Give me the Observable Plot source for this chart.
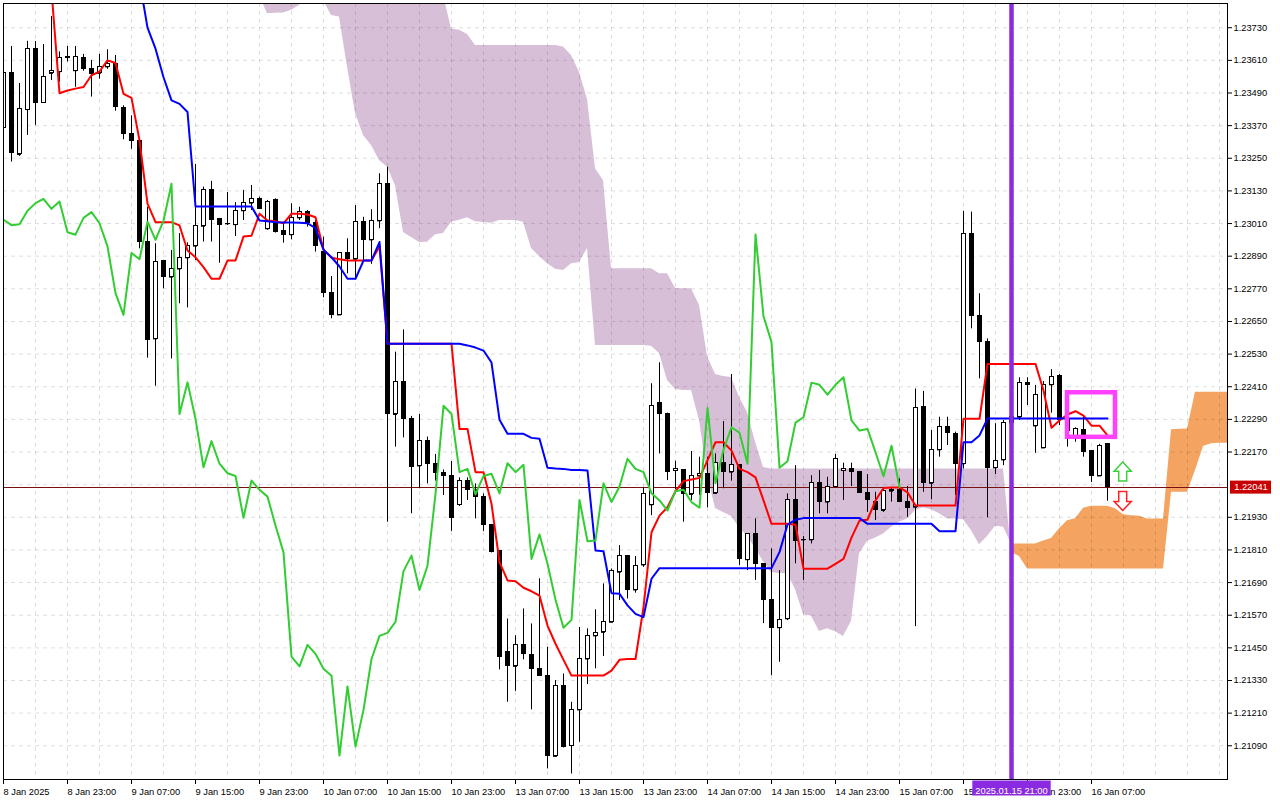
<!DOCTYPE html>
<html><head><meta charset="utf-8">
<script src="https://cdn.jsdelivr.net/npm/d3@7"></script>
<script src="https://cdn.jsdelivr.net/npm/@observablehq/plot@0.6"></script>
<style>
html,body{margin:0;padding:0;background:#fff;}
#chart svg{display:block;}
</style></head><body><div id="chart"></div>
<script>
// ---- EURUSD H1 candles, bar 0 = 8 Jan 2025 15:00 ----
const opens = [
1.23363,1.23563,1.23264,1.23429,1.23653,1.23455,1.23562,1.23568,1.23622,1.23572,
1.23620,1.23579,1.23562,1.23586,1.23597,1.23436,1.23340,1.23314,1.22943,1.22586,
1.22873,1.22813,1.22843,1.22884,1.22927,1.23000,1.23134,1.23025,1.23009,1.23006,
1.23057,1.23085,1.23101,1.22991,1.23095,1.22981,1.22969,1.23031,1.23052,1.23011,
1.22905,1.22755,1.22674,1.22902,1.22879,1.23017,1.22950,1.23020,1.23156,1.22308,
1.22426,1.22292,1.22119,1.22210,1.22127,1.22093,1.22082,1.21977,1.22065,1.22031,
1.22006,1.21903,1.21805,1.21436,1.21382,1.21461,1.21424,1.21373,1.21347,1.21051,
1.21308,1.21091,1.21222,1.21409,1.21494,1.21507,1.21544,1.21728,1.21789,1.21663,
1.21755,1.21976,1.22351,1.22308,1.22102,1.22105,1.22014,1.22082,1.22090,1.22018,
1.22129,1.22096,1.22123,1.21774,1.21867,1.21759,1.21627,1.21524,1.21557,1.21994,
1.21847,1.21847,1.22055,1.21986,1.22043,1.22102,1.22108,1.22096,1.22018,1.21986,
1.21955,1.22026,1.22031,1.21986,1.21967,1.22334,1.22055,1.22178,1.22261,1.22237,
1.22127,1.22972,1.22669,1.22574,1.22112,1.22141,1.22278,1.22298,1.22425,1.22266,
1.22185,1.22417,1.22451,1.22286,1.22227,1.22252,1.22175,1.22082,1.22200];
const highs = [
1.23573,1.23661,1.23525,1.23680,1.23679,1.23668,1.23771,1.23641,1.23661,1.23661,
1.23632,1.23610,1.23632,1.23649,1.23628,1.23443,1.23406,1.23314,1.23070,1.22936,
1.22873,1.22911,1.22973,1.22939,1.23227,1.23144,1.23165,1.23025,1.23124,1.23087,
1.23132,1.23150,1.23107,1.23095,1.23101,1.23009,1.23083,1.23070,1.23058,1.23021,
1.22960,1.22815,1.22902,1.22954,1.23076,1.23033,1.23061,1.23193,1.23217,1.22537,
1.22619,1.22301,1.22308,1.22225,1.22161,1.22104,1.22135,1.22075,1.22075,1.22053,
1.22016,1.21903,1.21805,1.21556,1.21495,1.21593,1.21538,1.21704,1.21452,1.21330,
1.21354,1.21250,1.21525,1.21520,1.21590,1.21685,1.21740,1.21826,1.21789,1.21786,
1.22040,1.22421,1.22498,1.22313,1.22136,1.22105,1.22172,1.22151,1.22151,1.22163,
1.22282,1.22455,1.22123,1.21867,1.21924,1.21759,1.21814,1.21734,1.22016,1.22120,
1.21859,1.22083,1.22102,1.22077,1.22161,1.22129,1.22129,1.22096,1.22087,1.22022,
1.22040,1.22038,1.22071,1.22043,1.22402,1.22393,1.22249,1.22298,1.22298,1.22243,
1.23055,1.23052,1.22752,1.22586,1.22274,1.22286,1.22341,1.22443,1.22443,1.22415,
1.22429,1.22473,1.22455,1.22315,1.22259,1.22304,1.22175,1.22198,1.22200];
const lows = [
1.23352,1.23236,1.23257,1.23334,1.23371,1.23455,1.23536,1.23530,1.23604,1.23511,
1.23570,1.23475,1.23541,1.23577,1.23423,1.23318,1.23283,1.22917,1.22515,1.22412,
1.22770,1.22512,1.22715,1.22700,1.22874,1.22942,1.22942,1.22864,1.23003,1.22962,
1.23021,1.23058,1.23064,1.22985,1.22975,1.22938,1.22950,1.23021,1.22997,1.22905,
1.22737,1.22660,1.22674,1.22825,1.22803,1.22874,1.22860,1.22991,1.21912,1.22188,
1.22222,1.21943,1.22035,1.22053,1.22063,1.22010,1.21878,1.21970,1.21992,1.21924,
1.21878,1.21799,1.21369,1.21250,1.21290,1.21406,1.21222,1.21347,1.21005,1.21048,
1.21082,1.20986,1.21103,1.21315,1.21373,1.21418,1.21544,1.21624,1.21630,1.21651,
1.21746,1.21936,1.22163,1.22065,1.22031,1.21912,1.21992,1.22010,1.21965,1.22016,
1.22035,1.22063,1.21753,1.21734,1.21698,1.21539,1.21348,1.21397,1.21550,1.21759,
1.21698,1.21832,1.21943,1.21943,1.22040,1.21992,1.22043,1.22018,1.21948,1.21918,
1.21948,1.21986,1.21986,1.21930,1.21528,1.22022,1.21995,1.22151,1.22194,1.22010,
1.22108,1.22623,1.22439,1.21928,1.22087,1.22120,1.22212,1.22286,1.22341,1.22165,
1.22185,1.22313,1.22267,1.22188,1.22206,1.22151,1.22058,1.22082,1.21989];
const closes = [
1.23562,1.23269,1.23430,1.23653,1.23453,1.23550,1.23569,1.23620,1.23618,1.23622,
1.23578,1.23561,1.23586,1.23597,1.23438,1.23340,1.23314,1.22942,1.22582,1.22869,
1.22813,1.22842,1.22884,1.22927,1.23002,1.23134,1.23024,1.23004,1.23007,1.23057,
1.23085,1.23101,1.23064,1.23091,1.22978,1.22969,1.23031,1.23052,1.23011,1.22926,
1.22754,1.22674,1.22902,1.22879,1.23017,1.22950,1.23020,1.23156,1.22310,1.22426,
1.22292,1.22114,1.22210,1.22127,1.22092,1.22082,1.21928,1.22065,1.22031,1.22006,
1.21900,1.21801,1.21418,1.21382,1.21461,1.21428,1.21373,1.21347,1.21054,1.21308,
1.21087,1.21222,1.21409,1.21494,1.21505,1.21546,1.21732,1.21789,1.21663,1.21752,
1.22016,1.22340,1.22310,1.22096,1.22108,1.22014,1.22082,1.22090,1.22018,1.22129,
1.22096,1.22123,1.21777,1.21867,1.21759,1.21627,1.21524,1.21553,1.21994,1.21842,
1.21845,1.22055,1.21986,1.22043,1.22145,1.22108,1.22096,1.22018,1.21992,1.21955,
1.22026,1.22031,1.21986,1.21965,1.22332,1.22055,1.22178,1.22261,1.22241,1.22127,
1.22970,1.22669,1.22574,1.22112,1.22136,1.22278,1.22298,1.22425,1.22417,1.22381,
1.22417,1.22445,1.22286,1.22249,1.22255,1.22169,1.22081,1.22193,1.22041];

// ---- Ichimoku lines ----
const tenkanStart = 6;   // red
const tenkan = [
1.23867,1.23489,1.23499,1.23506,1.23512,1.23555,1.23569,1.23610,1.23600,1.23487,
1.23472,1.23316,1.23083,1.23015,1.23015,1.23015,1.23003,1.22911,1.22886,1.22850,
1.22807,1.22807,1.22874,1.22874,1.22962,1.22965,1.23046,1.23021,1.23018,1.23011,
1.23046,1.23046,1.23043,1.23033,1.22914,1.22884,1.22879,1.22874,1.22874,1.22874,
1.22874,1.22926,
1.22568,1.22568,1.22568,1.22568,1.22568,1.22568,1.22568,1.22568,1.22568,
1.22255,1.22255,1.22096,1.22096,1.21980,1.21765,1.21698,1.21695,1.21671,1.21658,
1.21642,1.21532,1.21465,1.21406,1.21348,1.21348,1.21348,1.21348,1.21348,1.21366,
1.21406,1.21409,1.21409,1.21599,1.21875,1.21936,1.21967,1.22026,1.22063,1.22069,
1.22075,1.22139,1.22206,1.22206,1.22175,1.22108,1.22096,1.22077,1.21992,1.21906,
1.21906,1.21906,1.21903,1.21741,1.21741,1.21741,1.21741,1.21759,1.21777,1.21855,
1.21918,1.21921,1.21992,1.22038,1.22040,1.22040,1.22022,1.21973,1.21973,1.21973,
1.21973,1.21973,1.21973,1.22292,1.22292,1.22292,1.22494,1.22494,1.22494,1.22494,
1.22494,1.22494,1.22494,1.22396,1.22259,1.22286,1.22308,1.22320,1.22304,1.22267,
1.22267,1.22231];
const kijunStart = 17;   // blue
const kijun = [
1.23904,1.23730,1.23653,1.23548,1.23463,1.23450,1.23420,
1.23073,1.23073,1.23073,1.23073,1.23073,1.23073,1.23073,1.23073,
1.23021,1.23018,1.23015,1.23014,1.23014,1.23013,1.23011,1.22993,1.22914,1.22886,
1.22852,1.22807,1.22807,1.22874,1.22874,1.22942,
1.22568,1.22568,1.22568,1.22568,1.22568,1.22568,1.22568,1.22568,1.22568,1.22568,
1.22562,1.22554,1.22543,1.22499,1.22289,1.22237,1.22237,1.22237,1.22222,1.22219,
1.22112,1.22109,1.22108,1.22104,1.22104,1.22102,1.21808,1.21805,1.21651,1.21649,
1.21606,1.21575,1.21563,1.21704,
1.21743,1.21743,1.21743,1.21743,1.21743,1.21743,1.21743,1.21743,1.21743,1.21743,
1.21743,1.21743,1.21743,1.21743,1.21743,
1.21802,1.21903,1.21921,
1.21927,1.21927,1.21927,1.21927,1.21927,1.21927,1.21927,1.21927,
1.21906,1.21906,1.21906,1.21906,1.21906,1.21906,1.21906,1.21906,1.21906,
1.21879,1.21879,1.21879,1.22206,1.22206,1.22231,
1.22293,1.22293,1.22293,1.22293,1.22293,1.22293,1.22293,1.22293,
1.22293,1.22293,1.22293,1.22293,1.22293,1.22293,1.22293,1.22293];
const chikouStart = 0;   // green
const chikou = [
1.23024,1.23004,1.23007,1.23057,1.23085,1.23101,1.23064,1.23091,1.22978,1.22969,
1.23031,1.23052,1.23011,1.22926,1.22754,1.22674,1.22902,1.22879,1.23017,1.22950,
1.23020,1.23156,1.22310,1.22426,1.22292,1.22114,1.22210,1.22127,1.22092,1.22082,
1.21928,1.22065,1.22031,1.22006,1.21900,1.21801,1.21418,1.21382,1.21461,1.21428,
1.21373,1.21347,1.21054,1.21308,1.21087,1.21222,1.21409,1.21494,1.21505,1.21546,
1.21732,1.21789,1.21663,1.21752,1.22016,1.22340,1.22310,1.22096,1.22108,1.22014,
1.22082,1.22090,1.22018,1.22129,1.22096,1.22123,1.21777,1.21867,1.21759,1.21627,
1.21524,1.21553,1.21994,1.21842,1.21845,1.22055,1.21986,1.22043,1.22145,1.22108,
1.22096,1.22018,1.21992,1.21955,1.22026,1.22031,1.21986,1.21965,1.22332,1.22055,
1.22178,1.22261,1.22241,1.22127,1.22970,1.22669,1.22574,1.22112,1.22136,1.22278,
1.22298,1.22425,1.22417,1.22381,1.22417,1.22445,1.22286,1.22249,1.22255,1.22169,
1.22081,1.22193,1.22041];
const cloudStart = 32;
const cloudSwitch = 126;   // bar where span A crosses above span B
const senkouA = [
1.23849,1.23781,1.23783,1.23784,1.23794,1.23812,1.23860,1.23860,1.23830,1.23775,
1.23769,1.23585,1.23415,1.23334,1.23297,1.23242,1.23217,1.23149,1.22977,1.22959,
1.22940,1.22941,1.22969,1.22973,1.23015,1.23022,1.23031,1.23017,1.23014,1.23011,
1.23021,1.23021,1.23021,1.23015,1.22918,1.22889,1.22862,1.22842,1.22837,1.22862,
1.22867,1.22918,
1.22562,1.22562,1.22562,1.22562,1.22562,1.22562,1.22562,
1.22559,1.22532,1.22433,1.22400,1.22396,1.22396,1.22286,1.22084,1.21962,1.21948,
1.21933,1.21892,1.21859,1.21815,1.21767,1.21727,1.21723,1.21722,1.21665,1.21573,
1.21566,1.21510,1.21520,1.21509,1.21492,1.21548,1.21796,1.21842,1.21854,1.21869,
1.21893,1.21912,1.21924,1.21955,1.21965,1.21958,1.21943,1.21924,1.21924,1.21921,
1.21881,1.21829,1.21859,1.21897,1.21893,
1.21832,1.21832,1.21832,1.21832,1.21843,1.21852,1.21888,1.21917,1.21925,1.21963,
1.21971,1.21971,1.21971,1.21961,1.21939,1.21936,1.21934,1.21924,1.21924,1.21924,
1.22252,1.22254,1.22255,1.22390,1.22390,1.22390,1.22390,1.22390,1.22390];
const senkouB = [
1.23950,1.23950,1.23950,1.23950,1.23950,1.23950,1.23950,1.23950,1.23950,1.23950,
1.23950,1.23950,1.23950,1.23950,1.23950,1.23950,1.23950,1.23950,1.23950,1.23950,
1.23950,1.23950,1.23950,
1.23849,1.23725,1.23721,1.23705,
1.23665,1.23665,1.23665,1.23665,1.23665,1.23665,1.23665,1.23665,1.23665,1.23665,1.23665,
1.23659,1.23628,1.23565,1.23466,1.23211,1.23167,
1.22844,1.22844,1.22844,1.22844,1.22844,1.22844,
1.22825,1.22825,1.22771,1.22770,1.22770,1.22709,
1.22521,1.22455,1.22448,1.22444,1.22370,1.22315,1.22206,1.22113,
1.22108,1.22108,1.22108,1.22108,1.22108,1.22108,1.22108,1.22108,1.22108,1.22108,
1.22108,1.22108,1.22108,1.22108,1.22108,1.22108,1.22108,1.22108,1.22108,1.22108,
1.22108,1.22108,1.22108,1.22108,1.22108,1.22108,1.22108,1.22108,1.22108,1.22108,
1.21801,1.21786,
1.21740,1.21740,1.21740,1.21740,1.21740,1.21740,1.21740,1.21740,1.21740,
1.21740,1.21740,1.21740,1.21740,1.21740,1.21740,1.21740,1.21740,1.21740,
1.22022,1.22022,1.22022,1.22102,1.22190,1.22200,1.22202,1.22202,1.22202];

// ---- axes, annotations ----
const yTickValues = [1.23730,1.23610,1.23490,1.23370,1.23250,1.23130,1.23010,1.22890,1.22770,1.22650,1.22530,1.22410,1.22290,1.22170,1.22050,1.21930,1.21810,1.21690,1.21570,1.21450,1.21330,1.21210,1.21090];
const yTickLabelValues = yTickValues.filter(v => v !== 1.22050);
const xTickBars = [0,8,16,24,32,40,48,56,64,72,80,88,96,104,112,120,128,136];
const xTickLabels = ["8 Jan 2025","8 Jan 23:00","9 Jan 07:00","9 Jan 15:00","9 Jan 23:00","10 Jan 07:00","10 Jan 15:00","10 Jan 23:00","13 Jan 07:00","13 Jan 15:00","13 Jan 23:00","14 Jan 07:00","14 Jan 15:00","14 Jan 23:00","15 Jan 07:00","15 Jan 15:00","15 Jan 23:00","16 Jan 07:00"];
const currentPrice = 1.22041;
const markerBar = 126, markerLabel = "2025.01.15 21:00";
const boxAnn = [{x1:133, x2:139, y1:1.22388, y2:1.22224}];
const arrowAnn = [{k:139.9, p:1.22098, dir:"up", color:"#3ccf3c"}, {k:139.9, p:1.21990, dir:"down", color:"#ff2020"}];

// hollow block-arrow symbols (like MT5 buy/sell arrows)
const blockArrow = (sign) => ({
  draw(ctx, size) {
    const r = Math.sqrt(size / Math.PI);
    const pts = [[0,-r],[0.9*r,-0.05*r],[0.42*r,-0.05*r],[0.42*r,r],[-0.42*r,r],[-0.42*r,-0.05*r],[-0.9*r,-0.05*r]];
    ctx.moveTo(pts[0][0], sign*pts[0][1]);
    for (let i = 1; i < pts.length; i++) ctx.lineTo(pts[i][0], sign*pts[i][1]);
    ctx.closePath();
  }
});
const upArrow = blockArrow(1), downArrow = blockArrow(-1);

const candles = opens.map((o,i)=>({k:i, o, h:highs[i], l:lows[i], c:closes[i]}));
const toSeries = (arr, start) => arr.map((v,i)=>({k:start+i, v}));
const cloud = senkouA.map((a,i)=>({k:cloudStart+i, a, b:senkouB[i]}));

const FONT = "'Liberation Sans', Arial, sans-serif";
const chart = Plot.plot({
  width:1280, height:800, marginTop:3, marginLeft:3, marginRight:53, marginBottom:21,
  style:{fontFamily:FONT, fontSize:"9.3px", background:"#fff", color:"#000", overflow:"visible"},
  x:{domain:[0,153]},
  y:{domain:[1.20966,1.23819]},
  marks:[
    Plot.areaY(cloud.filter(d=>d.k<=cloudSwitch), {x:"k", y1:"a", y2:"b", fill:"#d8bfd8", clip:true}),
    Plot.areaY(cloud.filter(d=>d.k>=cloudSwitch), {x:"k", y1:"a", y2:"b", fill:"#f4a460", clip:true}),
    Plot.gridY(yTickValues, {stroke:"#000", strokeOpacity:0.13, strokeDasharray:"4,4"}),
    Plot.gridX(d3.range(4,153,4), {stroke:"#000", strokeOpacity:0.13, strokeDasharray:"4,4"}),
    Plot.ruleY([currentPrice], {stroke:"#7a1010", strokeWidth:1, shapeRendering:"crispEdges"}),
    Plot.ruleX(candles, {x:"k", y1:"l", y2:"h", stroke:"#000", strokeWidth:1, clip:true}),
    Plot.rect(candles, {x1:d=>d.k-0.25, x2:d=>d.k+0.25, y1:d=>Math.min(d.o,d.c), y2:d=>Math.max(d.o,d.c),
      fill:d=>d.c>=d.o?"#fff":"#000", stroke:"#000", strokeWidth:1, clip:true, shapeRendering:"crispEdges"}),
    Plot.ruleY(candles, {x1:d=>d.k-0.25, x2:d=>d.k+0.25, y:"o", stroke:"#000", strokeWidth:1, clip:true}),
    Plot.line(toSeries(tenkan, tenkanStart), {x:"k", y:"v", stroke:"#ff0000", strokeWidth:2, clip:true}),
    Plot.line(toSeries(kijun, kijunStart), {x:"k", y:"v", stroke:"#0000ff", strokeWidth:2, clip:true}),
    Plot.line(toSeries(chikou, chikouStart), {x:"k", y:"v", stroke:"#32cd32", strokeWidth:2, clip:true}),
    Plot.ruleX([markerBar], {stroke:"#8a2be2", strokeWidth:4.5}),
    Plot.rect(boxAnn, {x1:"x1", x2:"x2", y1:"y1", y2:"y2", fill:"none", stroke:"#ff40ff", strokeWidth:4.5}),
    Plot.dot(arrowAnn.filter(d=>d.dir==="up"), {x:"k", y:"p", r:9.5, symbol:upArrow, fill:"#fff", stroke:"color", strokeWidth:1.5}),
    Plot.dot(arrowAnn.filter(d=>d.dir==="down"), {x:"k", y:"p", r:9.5, symbol:downArrow, fill:"#fff", stroke:"color", strokeWidth:1.5}),
    Plot.frame({stroke:"#000"}),
    Plot.axisY(yTickLabelValues, {anchor:"right", tickFormat:d3.format(".5f"), tickSize:4, tickPadding:2, label:null}),
    Plot.axisX(xTickBars, {anchor:"bottom", tickFormat:k=>xTickLabels[xTickBars.indexOf(k)], tickSize:5, tickPadding:3.5, textAnchor:"start", dx:0, label:null})
  ]
});
document.getElementById("chart").appendChild(chart);

// price tag and marker date label, positioned through the plot's own scales
const sx = chart.scale("x"), sy = chart.scale("y");
const svg = d3.select(chart);
const right = sx.apply(153), bottom = sy.apply(1.20966);
const yp = sy.apply(currentPrice);
const tag = svg.append("g");
tag.append("rect").attr("x", right+3).attr("y", yp-6).attr("width", 41).attr("height", 13).attr("fill", "#c80000");
tag.append("text").attr("x", right+24).attr("y", yp+3.5).attr("text-anchor","middle").attr("fill","#fff")
  .attr("font-family", FONT).attr("font-size", "9.3px").text(currentPrice.toFixed(5));
const mx = sx.apply(markerBar) + 0.5;
const lab = svg.append("g");
const lr = lab.append("rect").attr("fill", "#8a2be2");
const lt = lab.append("text").attr("x", mx).attr("y", bottom+14.5).attr("text-anchor","middle").attr("fill","#fff")
  .attr("font-family", FONT).attr("font-size", "9.3px").text(markerLabel);
const tw = lt.node().getComputedTextLength();
lr.attr("x", mx - tw/2 - 3).attr("y", bottom+1.5).attr("width", tw+6).attr("height", 15);
</script></body></html>
